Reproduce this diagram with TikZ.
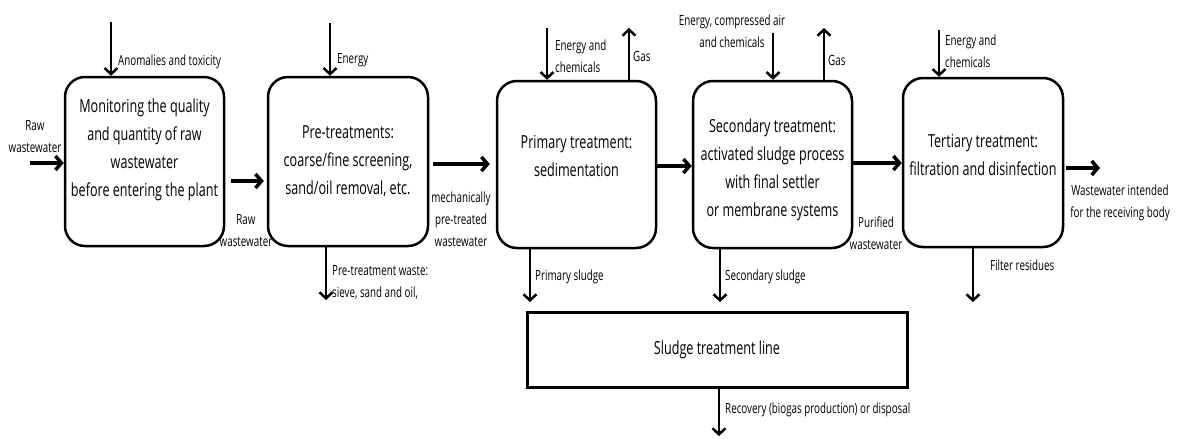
\documentclass[tikz,border=0pt]{standalone}
\usepackage{fontspec}
\setmainfont{Open Sans}[FakeStretch=0.7]
\usetikzlibrary{arrows.meta,calc}
\begin{document}
\begin{tikzpicture}[x=1pt,y=-1pt,
  box/.style={draw,line width=2.5pt,rounded corners=20pt,inner sep=0pt},
  boxtxt/.style={align=center,font=\fontsize{18}{28}\selectfont,inner sep=0pt},
  lbl/.style={align=center,font=\fontsize{14}{22}\selectfont,inner sep=0pt},
  lbll/.style={align=left,font=\fontsize{14}{22}\selectfont,inner sep=0pt,anchor=west},
  harr/.style={line width=3.5pt,-{Straight Barb[length=6pt,width=14pt]}},
  varr/.style={line width=2.5pt,-{Straight Barb[length=6pt,width=13pt]}}]
\useasboundingbox (0,0) rectangle (1179,439);
% boxes
\node[box,minimum width=159pt,minimum height=169pt] (b1) at (144.5,161.5) {};
\node[box,minimum width=160pt,minimum height=169pt] (b2) at (348,161.5) {};
\node[box,minimum width=159pt,minimum height=167pt] (b3) at (576.5,164.5) {};
\node[box,minimum width=159pt,minimum height=167pt] (b4) at (772.5,164.5) {};
\node[box,minimum width=160pt,minimum height=169pt] (b5) at (983,162.5) {};
\node[draw,line width=3pt,minimum width=380pt,minimum height=75pt,inner sep=0pt] (sl) at (717,349.5) {};
% box texts
\node[boxtxt] (t1) at (144.5,149.5) {Monitoring the quality\\and quantity of raw\\wastewater\\before entering the plant};
\node[boxtxt] (t2) at (348,161) {Pre-treatments:\\coarse/fine screening,\\sand/oil removal, etc.};
\node[boxtxt] (t3) at (576.5,156) {Primary treatment:\\sedimentation};
\node[boxtxt] (t4) at (772.5,170) {Secondary treatment:\\activated sludge process\\with final settler\\or membrane systems};
\node[boxtxt] (t5) at (983,155) {Tertiary treatment:\\filtration and disinfection};
\node[boxtxt] (ts) at (717,350) {Sludge treatment line};
% free ends
\coordinate (rawin) at (30,163);
\coordinate (anom) at (111,22);
\coordinate (en2) at (330,23);
\coordinate (w2) at (326,300);
\coordinate (en3) at (547,28);
\coordinate (g3) at (629,28);
\coordinate (en4) at (773,33);
\coordinate (g4) at (824,28);
\coordinate (en5) at (939,30);
\coordinate (out5) at (1100,168);
\coordinate (ps) at (530,302);
\coordinate (ss) at (720,302);
\coordinate (fr) at (973,302);
\coordinate (rec) at (719,436);
% horizontal flows
\draw[harr] (rawin) -- (rawin -| b1.west);
\draw[harr] ($(b1.east |- 0,181)+(6,0)$) -- ($(b2.west |- 0,181)+(-3,0)$);
\draw[harr] ($(b2.east |- 0,164)+(4,0)$) -- ($(b3.west |- 0,164)+(-6,0)$);
\draw[harr] (b3.east |- 0,166) -- (b4.west |- 0,166);
\draw[harr] (b4.east |- 0,163) -- (b5.west |- 0,163);
\draw[harr] ($(b5.east |- out5)+(2,0)$) -- (out5);
% vertical flows
\draw[varr] (anom) -- (anom |- b1.north);
\draw[varr] (en2) -- (en2 |- b2.north);
\draw[varr] (w2 |- b2.south) -- (w2);
\draw[varr] (en3) -- (en3 |- b3.north);
\draw[varr] (g3 |- b3.north) -- (g3);
\draw[varr] (en4) -- (en4 |- b4.north);
\draw[varr] (g4 |- b4.north) -- (g4);
\draw[varr] (en5) -- (en5 |- b5.north);
\draw[varr] (ps |- b3.south) -- (ps);
\draw[varr] (ss |- b4.south) -- (ss);
\draw[varr] (fr |- b5.south) -- (fr);
\draw[varr] (sl.south -| rec) -- (rec);
% labels
\node[lbl] (l1) at (35,136.5) {Raw\\wastewater};
\node[lbll] (l2) at (118,62) {Anomalies and toxicity};
\node[lbl] (l3) at (246,230.5) {Raw\\wastewater};
\node[lbll] (l4) at (337,60) {Energy};
\node[lbll] (l5) at (332,282.5) {Pre-treatment waste:\\sieve, sand and oil,};
\node[lbl] (l6) at (461,219) {mechanically\\pre-treated\\wastewater};
\node[lbll] (l7) at (555,56) {Energy and\\chemicals};
\node[lbll] (l8) at (633,56) {Gas};
\node[lbl] (l9) at (732,31) {Energy, compressed air\\and chemicals};
\node[lbll] (l10) at (828,60) {Gas};
\node[lbl] (l11) at (876,233) {Purified\\wastewater};
\node[lbll] (l12) at (945,51) {Energy and\\chemicals};
\node[lbl] (l13) at (1120,203) {Wastewater intended\\for the receiving body};
\node[lbll] (l14) at (990,265) {Filter residues};
\node[lbll] (l15) at (535,277) {Primary sludge};
\node[lbll] (l16) at (725,277) {Secondary sludge};
\node[lbll] (l17) at (725,410) {Recovery (biogas production) or disposal};
\end{tikzpicture}
\end{document}
